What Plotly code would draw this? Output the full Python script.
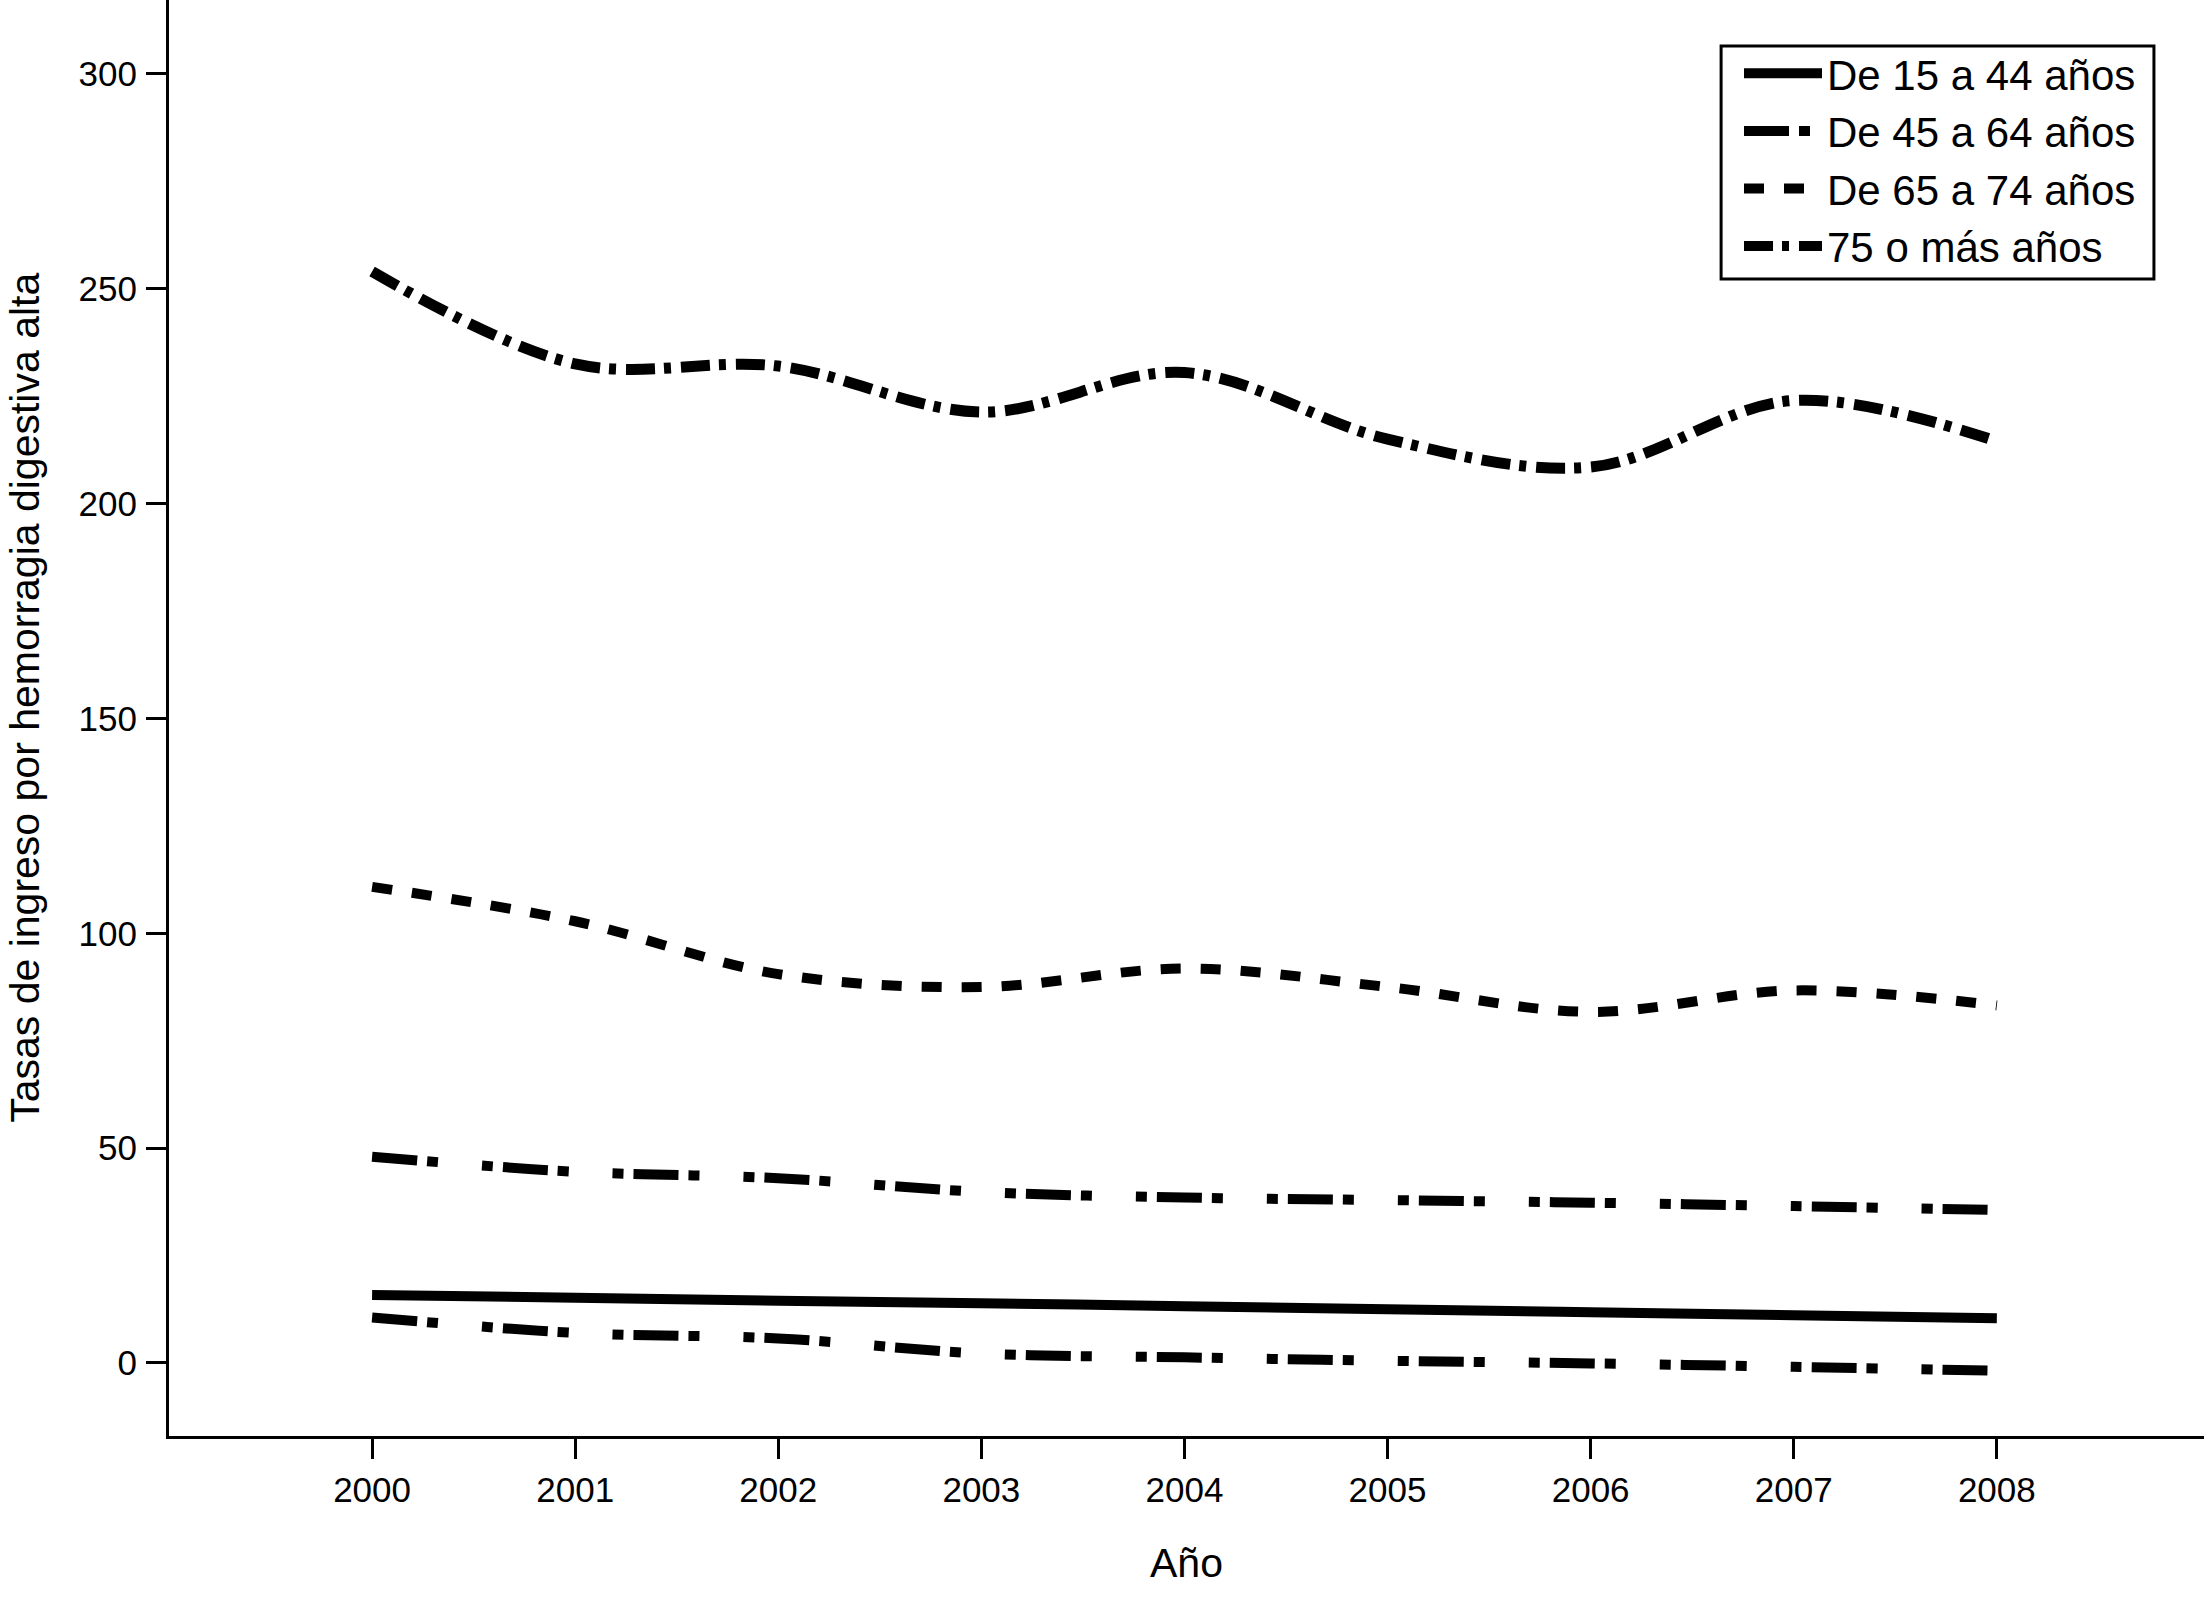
import plotly.graph_objects as go

years = [2000, 2001, 2002, 2003, 2004, 2005, 2006, 2007, 2008]

edad_15_44 = [15.8, 15.2, 14.5, 13.9, 13.2, 12.5, 11.8, 11.1, 10.4]
edad_45_64 = [48.0, 44.5, 43.0, 39.8, 38.5, 37.9, 37.3, 36.5, 35.6]
edad_45_64_b = [10.6, 7.0, 5.7, 2.2, 1.3, 0.5, -0.1, -0.9, -1.8]
edad_65_74 = [110.8, 102.8, 90.5, 87.5, 91.8, 87.5, 81.7, 86.7, 83.2]
edad_75_mas = [254.0, 232.5, 232.0, 221.3, 230.5, 215.0, 208.5, 224.0, 214.5]

names = ["De 15 a 44 años", "De 45 a 64 años", "De 65 a 74 años", "75 o más años"]
yticks = [0, 50, 100, 150, 200, 250, 300]

FONT = "Liberation Sans, Arial, Helvetica, sans-serif"
dashdot = "45px,10px,11px,44px,11px,10px"
dash_75 = "29px,9px,7px,10px"

fig = go.Figure()
fig.add_trace(go.Scatter(x=years, y=edad_15_44, mode="lines", name=names[0],
                         line=dict(color="black", width=10, shape="spline")))
fig.add_trace(go.Scatter(x=years, y=edad_45_64, mode="lines", name=names[1],
                         line=dict(color="black", width=10, dash=dashdot, shape="spline")))
fig.add_trace(go.Scatter(x=years, y=edad_65_74, mode="lines", name=names[2],
                         line=dict(color="black", width=10, dash="20px,20px", shape="spline")))
fig.add_trace(go.Scatter(x=years, y=edad_75_mas, mode="lines", name=names[3],
                         line=dict(color="black", width=11, dash=dash_75, shape="spline")))
fig.add_trace(go.Scatter(x=years, y=edad_45_64_b, mode="lines", name=names[1], showlegend=False,
                         line=dict(color="black", width=10, dash=dashdot, shape="spline")))

fig.update_layout(
    width=2208, height=1597,
    margin=dict(l=169, r=4, t=0, b=161),
    paper_bgcolor="white", plot_bgcolor="white",
    font=dict(family=FONT, color="black", size=35),
    showlegend=True,
    legend=dict(
        x=0.7715, y=0.9725, xanchor="left", yanchor="top",
        borderwidth=0, bgcolor="rgba(0,0,0,0)",
        font=dict(family=FONT, size=42, color="black"),
        itemwidth=78, tracegroupgap=0,
    ),
    shapes=[dict(type="rect", xref="paper", yref="paper",
                 x0=0.7627, x1=0.9754, y0=0.8057, y1=0.968,
                 line=dict(color="black", width=3), fillcolor="rgba(0,0,0,0)", layer="above")],
    annotations=[dict(text="Tasas de ingreso por hemorragia digestiva alta",
                      xref="paper", yref="paper", x=-0.0708, y=0.514,
                      xanchor="center", yanchor="middle", textangle=-90, showarrow=False,
                      font=dict(family=FONT, size=41, color="black"))],
    xaxis=dict(
        range=[1999.0, 2009.02], tickmode="array", tickvals=years,
        ticktext=[str(y) for y in years],
        showgrid=False, zeroline=False, showline=True, linecolor="black", linewidth=3,
        ticks="outside", ticklen=20, tickwidth=3, tickcolor="black",
        ticklabelstandoff=1,
        tickfont=dict(family=FONT, size=35),
        title=dict(text="Año", font=dict(family=FONT, size=41), standoff=41),
    ),
    yaxis=dict(
        range=[-17, 317.2], tickmode="array", tickvals=yticks,
        showgrid=False, zeroline=False, showline=True, linecolor="black", linewidth=3,
        ticks="outside", ticklen=20, tickwidth=3, tickcolor="black",
        ticklabelstandoff=2,
        tickfont=dict(family=FONT, size=35),
    ),
)

fig.write_html("out.html", post_script="document.body.style.margin='0';",
               config={"displayModeBar": False})
